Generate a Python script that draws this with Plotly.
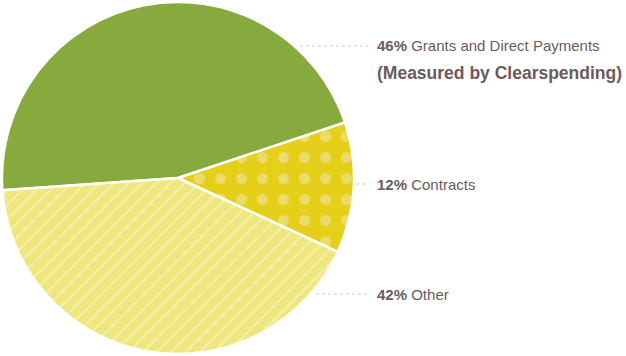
import plotly.graph_objects as go

categories = ["Grants and Direct Payments", "Contracts", "Other"]
values = [46, 12, 42]
pct_labels = ["46%", "12%", "42%"]
colors = ["#86AA3D", "#E6CF18", "#EFE67E"]
pattern_shapes = ["", ".", "/"]
pattern_fg = ["#86AA3D", "#EBDC6A", "#F7F2BE"]
subtitle = "(Measured by Clearspending)"

W, H = 626, 356
fig = go.Figure()
fig.add_trace(go.Pie(
    labels=categories, values=values, sort=False, direction="clockwise",
    rotation=266,
    marker=dict(colors=colors, line=dict(color="white", width=2.5),
                pattern=dict(shape=pattern_shapes, fgcolor=pattern_fg,
                             bgcolor=colors, fgopacity=1,
                             size=[20, 21, 10], solidity=[0.3, 0.22, 0.15])),
    textinfo="none", hoverinfo="label+percent", showlegend=False,
    domain=dict(x=[2 / W, 354 / W], y=[2 / H, 354 / H]),
))

txtc = "#6B5B5E"
label_y = [46, 184, 294]
lead_x0 = [300, 356, 316]
for p, c, y, x0 in zip(pct_labels, categories, label_y, lead_x0):
    fig.add_annotation(x=375 / W, y=1 - y / H, xref="paper", yref="paper",
                       xanchor="left", yanchor="middle", showarrow=False,
                       text=f"<b>{p}</b> {c}",
                       font=dict(family="Liberation Sans, Arial", size=15, color=txtc))
    fig.add_shape(type="line", xref="paper", yref="paper",
                  x0=x0 / W, x1=368 / W, y0=1 - y / H, y1=1 - y / H,
                  line=dict(color="#CCCCCC", width=1.2, dash="dot"))
fig.add_annotation(x=375 / W, y=1 - 73 / H, xref="paper", yref="paper",
                   xanchor="left", yanchor="middle", showarrow=False,
                   text=f"<b>{subtitle}</b>",
                   font=dict(family="Liberation Sans, Arial", size=17.5, color=txtc))

fig.update_layout(width=W, height=H, margin=dict(l=0, r=0, t=0, b=0),
                  paper_bgcolor="white", plot_bgcolor="white")
fig.write_html("out.html", config={"displayModeBar": False},
               post_script="document.body.style.margin='0px';")
